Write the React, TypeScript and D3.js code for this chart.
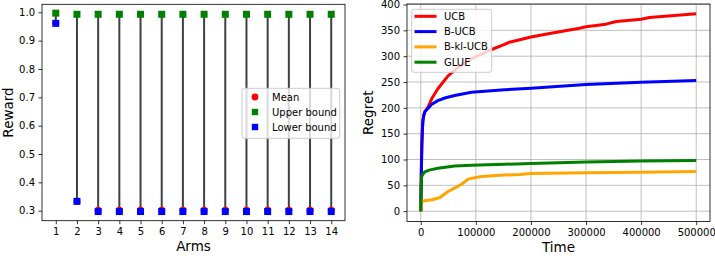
// Bandit arms (reward bounds) + regret curves, drawn with D3
import React, { useEffect, useRef } from 'react';
import * as d3 from 'd3';

// left panel: reward bounds per arm
const arms = [1, 2, 3, 4, 5, 6, 7, 8, 9, 10, 11, 12, 13, 14];
const meanReward = [0.962, 0.332, 0.302, 0.302, 0.302, 0.302, 0.302, 0.302, 0.302, 0.302, 0.302, 0.302, 0.302, 0.302];
const upperBound = [0.997, 0.993, 0.993, 0.993, 0.993, 0.993, 0.993, 0.993, 0.993, 0.993, 0.993, 0.993, 0.993, 0.993];
const lowerBound = [0.961, 0.333, 0.297, 0.297, 0.297, 0.297, 0.297, 0.297, 0.297, 0.297, 0.297, 0.297, 0.297, 0.297];
const rewardTicks = [0.3, 0.4, 0.5, 0.6, 0.7, 0.8, 0.9, 1.0];

// right panel: cumulative regret over time
const ucbTime = [0, 1000, 2500, 4000, 7000, 13000, 20000, 31000, 49500, 67500, 92000, 122000, 152000, 161000, 200000, 234000, 288000, 300000, 336000, 355000, 400000, 415000, 500000];
const ucbRegret = [0, 90, 150, 178, 192, 201, 218, 237, 262, 278, 295, 310, 323, 327, 337, 344, 354, 357, 362, 367, 371.5, 375, 382];
const bucbTime = [0, 1000, 2000, 3500, 5400, 8000, 13000, 20000, 31000, 45000, 61500, 92000, 152000, 200000, 300000, 400000, 500000];
const bucbRegret = [0, 70, 130, 170, 186, 193, 199, 207, 214, 219.5, 224, 230, 235, 238, 245, 249.6, 253];
const bklTime = [0, 500, 10000, 20000, 34000, 49500, 62000, 74000, 86000, 100000, 110000, 152000, 180000, 200000, 300000, 400000, 500000];
const bklRegret = [0, 19, 20.5, 22, 26, 38, 45, 52, 62, 65, 67, 70, 71, 73, 74.6, 75.5, 77];
const glueTime = [0, 500, 1500, 4000, 7200, 15000, 31000, 61500, 92000, 152000, 200000, 300000, 400000, 500000];
const glueRegret = [0, 40, 67, 72, 76, 79.5, 83, 87.5, 89, 90.7, 92.5, 95, 97, 98];
const seriesNames = ['UCB', 'B-UCB', 'B-kl-UCB', 'GLUE'];
const seriesColors = ['#ff0000', '#0000ff', '#ffa500', '#008000'];
const timeTicks = [0, 100000, 200000, 300000, 400000, 500000];
const regretTicks = [0, 50, 100, 150, 200, 250, 300, 350, 400];

const FONT = 'DejaVu Sans, sans-serif';

const App = () => {
  const svgRef = useRef<SVGSVGElement>(null);

  useEffect(() => {
    if (!svgRef.current) return;
    const svg = d3.select(svgRef.current);
    svg.selectAll('*').remove();

    const styleAxis = (g: any) => {
      g.select('.domain').remove();
      g.selectAll('.tick line').attr('stroke', '#000').attr('stroke-width', 0.8);
      g.selectAll('.tick text').attr('fill', '#000').attr('font-size', 10).attr('font-family', FONT);
    };

    // ---- left panel ----
    const L = { left: 42, right: 345, top: 4.3, bottom: 220.7 };
    const xArm = d3.scaleLinear().domain([0.35, 14.65]).range([L.left, L.right]);
    const yRew = d3.scaleLinear().domain([0.2647, 1.0282]).range([L.bottom, L.top]);

    const left = svg.append('g');
    left.selectAll('.bar')
      .data(arms)
      .enter()
      .append('line')
      .attr('x1', (d) => xArm(d))
      .attr('x2', (d) => xArm(d))
      .attr('y1', (_, i) => yRew(lowerBound[i]))
      .attr('y2', (_, i) => yRew(upperBound[i]))
      .attr('stroke', '#404040')
      .attr('stroke-width', 2);

    left.selectAll('.mean')
      .data(arms)
      .enter()
      .append('circle')
      .attr('cx', (d) => xArm(d))
      .attr('cy', (_, i) => yRew(meanReward[i]))
      .attr('r', 3.4)
      .attr('fill', '#ff0000');

    const sq = 7;
    left.selectAll('.upper')
      .data(arms)
      .enter()
      .append('rect')
      .attr('x', (d) => xArm(d) - sq / 2)
      .attr('y', (_, i) => yRew(upperBound[i]) - sq / 2)
      .attr('width', sq)
      .attr('height', sq)
      .attr('fill', '#008000');

    left.selectAll('.lower')
      .data(arms)
      .enter()
      .append('rect')
      .attr('x', (d) => xArm(d) - sq / 2)
      .attr('y', (_, i) => yRew(lowerBound[i]) - sq / 2)
      .attr('width', sq)
      .attr('height', sq)
      .attr('fill', '#0000ff');

    left.append('g')
      .attr('transform', `translate(0,${L.bottom})`)
      .call(d3.axisBottom(xArm).tickValues(arms).tickFormat(d3.format('d')).tickSize(3.5).tickPadding(3.5))
      .call(styleAxis);
    left.append('g')
      .attr('transform', `translate(${L.left},0)`)
      .call(d3.axisLeft(yRew).tickValues(rewardTicks).tickFormat(d3.format('.1f')).tickSize(3.5).tickPadding(3.5))
      .call(styleAxis);

    left.append('rect')
      .attr('x', L.left).attr('y', L.top)
      .attr('width', L.right - L.left).attr('height', L.bottom - L.top)
      .attr('fill', 'none').attr('stroke', '#000').attr('stroke-width', 0.8);

    left.append('text')
      .attr('x', (L.left + L.right) / 2).attr('y', 251)
      .attr('text-anchor', 'middle').attr('font-size', 13.5).attr('font-family', FONT)
      .text('Arms');
    left.append('text')
      .attr('transform', `translate(13,${(L.top + L.bottom) / 2}) rotate(-90)`)
      .attr('text-anchor', 'middle').attr('font-size', 13.5).attr('font-family', FONT)
      .text('Reward');

    // left legend
    const lg = left.append('g');
    lg.append('rect')
      .attr('x', 242).attr('y', 88.3).attr('width', 97.7).attr('height', 50).attr('rx', 2.5)
      .attr('fill', '#fff').attr('fill-opacity', 0.8).attr('stroke', '#cccccc').attr('stroke-width', 1);
    const legendItems = ['Mean', 'Upper bound', 'Lower bound'];
    const legendColors = ['#ff0000', '#008000', '#0000ff'];
    legendItems.forEach((name, i) => {
      const cy = 97 + i * 15;
      if (i === 0) {
        lg.append('circle').attr('cx', 255).attr('cy', cy).attr('r', 3.4).attr('fill', legendColors[i]);
      } else {
        lg.append('rect').attr('x', 255 - 3.2).attr('y', cy - 3.2).attr('width', 6.4).attr('height', 6.4).attr('fill', legendColors[i]);
      }
      lg.append('text').attr('x', 272).attr('y', cy).attr('dy', '0.35em')
        .attr('font-size', 10).attr('font-family', FONT).text(name);
    });

    // ---- right panel ----
    const R = { left: 407, right: 710, top: 4, bottom: 221.5 };
    const xT = d3.scaleLinear().domain([-25000, 525000]).range([R.left, R.right]);
    const yReg = d3.scaleLinear().domain([-20, 401]).range([R.bottom, R.top]);

    const right = svg.append('g');
    const grid = right.append('g');
    grid.selectAll('.gx').data(timeTicks).enter().append('line')
      .attr('x1', (d) => xT(d)).attr('x2', (d) => xT(d))
      .attr('y1', R.top).attr('y2', R.bottom)
      .attr('stroke', '#b0b0b0').attr('stroke-width', 0.8);
    grid.selectAll('.gy').data(regretTicks).enter().append('line')
      .attr('y1', (d) => yReg(d)).attr('y2', (d) => yReg(d))
      .attr('x1', R.left).attr('x2', R.right)
      .attr('stroke', '#b0b0b0').attr('stroke-width', 0.8);

    const seriesTime = [ucbTime, bucbTime, bklTime, glueTime];
    const seriesVals = [ucbRegret, bucbRegret, bklRegret, glueRegret];
    const line = d3.line<[number, number]>()
      .x((d) => xT(d[0]))
      .y((d) => yReg(d[1]));

    right.append('defs').append('clipPath').attr('id', 'clipR')
      .append('rect').attr('x', R.left).attr('y', R.top)
      .attr('width', R.right - R.left).attr('height', R.bottom - R.top);

    seriesNames.forEach((_, s) => {
      const pts = seriesTime[s].map((t, i) => [t, seriesVals[s][i]] as [number, number]);
      right.append('path')
        .attr('d', line(pts))
        .attr('fill', 'none')
        .attr('stroke', seriesColors[s])
        .attr('stroke-width', 3)
        .attr('stroke-linejoin', 'round')
        .attr('clip-path', 'url(#clipR)');
    });

    right.append('g')
      .attr('transform', `translate(0,${R.bottom})`)
      .call(d3.axisBottom(xT).tickValues(timeTicks).tickFormat(d3.format('d')).tickSize(3.5).tickPadding(3.5))
      .call(styleAxis);
    right.append('g')
      .attr('transform', `translate(${R.left},0)`)
      .call(d3.axisLeft(yReg).tickValues(regretTicks).tickFormat(d3.format('d')).tickSize(3.5).tickPadding(3.5))
      .call(styleAxis);

    right.append('rect')
      .attr('x', R.left).attr('y', R.top)
      .attr('width', R.right - R.left).attr('height', R.bottom - R.top)
      .attr('fill', 'none').attr('stroke', '#000').attr('stroke-width', 0.8);

    right.append('text')
      .attr('x', (R.left + R.right) / 2).attr('y', 252)
      .attr('text-anchor', 'middle').attr('font-size', 13.5).attr('font-family', FONT)
      .text('Time');
    right.append('text')
      .attr('transform', `translate(373,${(R.top + R.bottom) / 2}) rotate(-90)`)
      .attr('text-anchor', 'middle').attr('font-size', 13.5).attr('font-family', FONT)
      .text('Regret');

    // right legend
    const rg = right.append('g');
    rg.append('rect')
      .attr('x', 411.7).attr('y', 9.3).attr('width', 80).attr('height', 63).attr('rx', 2.5)
      .attr('fill', '#fff').attr('fill-opacity', 0.8).attr('stroke', '#cccccc').attr('stroke-width', 1);
    seriesNames.forEach((name, i) => {
      const cy = 16.3 + i * 15.3;
      rg.append('line').attr('x1', 414.5).attr('x2', 436.5).attr('y1', cy).attr('y2', cy)
        .attr('stroke', seriesColors[i]).attr('stroke-width', 3);
      rg.append('text').attr('x', 444).attr('y', cy).attr('dy', '0.35em')
        .attr('font-size', 10).attr('font-family', FONT).text(name);
    });
  }, []);

  return (
    <svg
      ref={svgRef}
      width={715}
      height={256}
      style={{ position: 'absolute', left: 0, top: 0, background: '#fff' }}
    />
  );
};

export default App;
